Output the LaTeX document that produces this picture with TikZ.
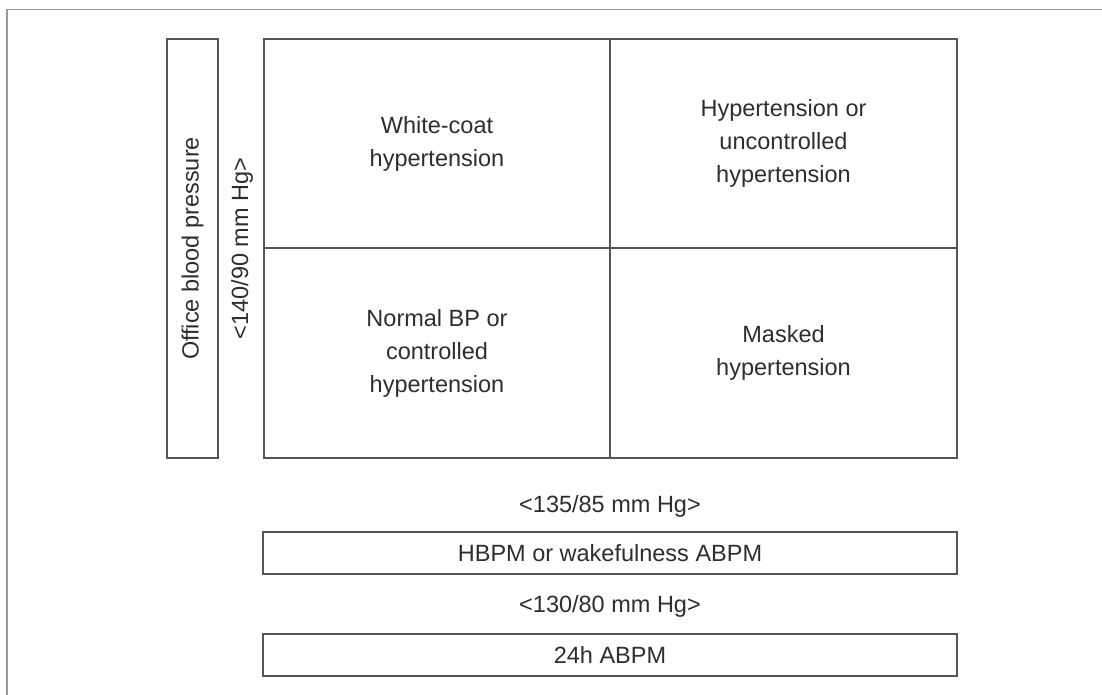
\documentclass[tikz,border=0pt]{standalone}
\usepackage{fontspec}
\setmainfont{Liberation Sans}
\definecolor{linec}{HTML}{555555}
\definecolor{textc}{HTML}{2E2E2E}
\definecolor{framec}{HTML}{9A9A9A}
\begin{document}
\begin{tikzpicture}[x=1pt,y=-1pt,
  every node/.style={font=\fontsize{23.5}{33}\selectfont, text=textc, inner sep=0pt, outer sep=0pt},
  box/.style={draw=linec, line width=1.8pt, rectangle},
  cell/.style={box, minimum width=#1, minimum height=209.5, align=center},
  bar/.style={box, minimum width=694, minimum height=41.5}]
\useasboundingbox (0,0) rectangle (1102,695);
\fill[white] (0,0) rectangle (1102,695);
% outer frame
\coordinate (fbl) at (7,695);
\coordinate (ftl) at (7,9.5);
\coordinate (ftr) at (1102,9.5);
\draw[framec, line width=1.5pt] (fbl) -- (ftl) -- (ftr);
% office box
\node[box, rotate=90, minimum width=419, minimum height=51] (office) at (192.5,248.5) {Office blood pressure};
\node[rotate=90] (th1) at (242,248.5) {<140/90 mm Hg>};
% grid cells
\node[cell=346] (wc) at (437,143.5) {White-coat\\hypertension};
\node[cell=347] (ht) at (783.5,143.5) {Hypertension or\\uncontrolled\\hypertension};
\node[cell=346] (nb) at (437,353) {Normal BP or\\controlled\\hypertension};
\node[cell=347] (mh) at (783.5,353) {Masked\\hypertension};
% bottom
\node (th2) at (610,506) {<135/85 mm Hg>};
\node[bar] (hbpm) at (610,553) {HBPM or wakefulness ABPM};
\node (th3) at (610,606) {<130/80 mm Hg>};
\node[bar] (abpm) at (610,655) {24h ABPM};
\end{tikzpicture}
\end{document}
